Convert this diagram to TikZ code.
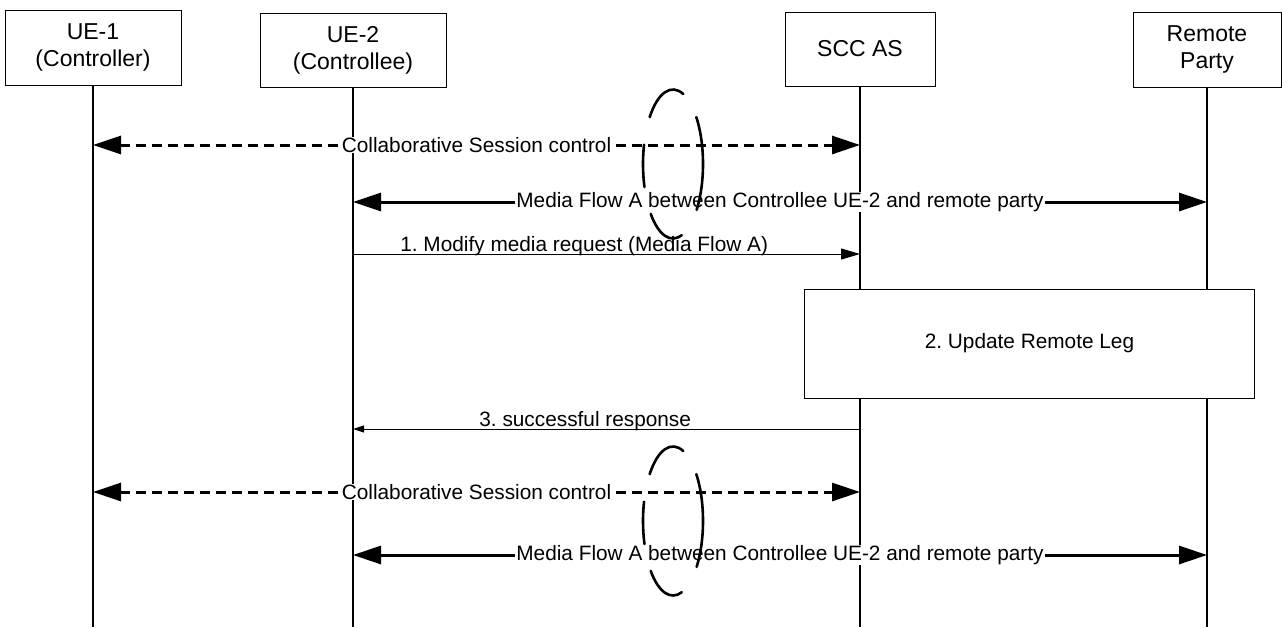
\documentclass[tikz,border=0pt]{standalone}
\usepackage{fontspec}
\setmainfont{Liberation Sans}
\usetikzlibrary{arrows.meta}
\frenchspacing
\newcommand{\hdrfont}{\fontsize{23}{27}\selectfont}
\newcommand{\msgfont}{\fontsize{20.8}{25}\selectfont}

\begin{document}
\begin{tikzpicture}[x=1pt, y=-1pt,
  party/.style={draw, line width=1pt, fill=white, minimum height=75pt, align=center, font=\hdrfont},
  lifeline/.style={line width=1.5pt},
  ctrl/.style={{Triangle[length=28pt,width=18pt]}-{Triangle[length=28pt,width=18pt]}, line width=3pt, dash pattern=on 10pt off 6pt},
  media/.style={{Triangle[length=28pt,width=18pt]}-{Triangle[length=28pt,width=18pt]}, line width=3pt},
  cut/.style={fill=white, inner xsep=1pt, inner ysep=0pt, font=\msgfont},
  msg/.style={-{Triangle[length=19pt,width=11pt]}, line width=1pt},
  reply/.style={-{Triangle[length=11pt,width=7pt]}, line width=1pt},
  lbl/.style={anchor=base, yshift=2.5pt, font=\msgfont},
  actbox/.style={draw, line width=1pt, fill=white, minimum width=450pt, minimum height=109pt, font=\msgfont},
  ring/.style={line width=2.6pt, line cap=round}
]
\useasboundingbox (0,0) rectangle (1282,627);

% entities
\node[party, minimum width=176pt] (ue1) at (93,47.5) {UE-1\\(Controller)};
\node[party, minimum width=186pt, minimum height=74pt] (ue2) at (353,50) {UE-2\\(Controllee)};
\node[party, minimum width=150pt, minimum height=74pt] (scc) at (860,49) {SCC AS};
\node[party, minimum width=148pt] (rp) at (1207,49.5) {Remote\\Party};

% lifelines
\foreach \n in {ue1,ue2,scc,rp}
  \draw[lifeline] (\n.south) -- (\n.south |- 0,627);

% before
\draw[ctrl] (ue1.south |- 0,145) -- node[cut] {Collaborative Session control} (scc.south |- 0,145);
\draw[media] (ue2.south |- 0,202) -- node[cut] {Media Flow A between Controllee UE-2 and remote party} (rp.south |- 0,202);

% steps
\draw[msg] (ue2.south |- 0,254) -- node[lbl, pos=0.456] {1. Modify media request (Media Flow A)} (scc.south |- 0,254);
\node[actbox] (upd) at (1029.5,343.5) {2. Update Remote Leg};
\draw[reply] (scc.south |- 0,429) -- node[lbl, pos=0.542, yshift=0.5pt] {3. successful response} (ue2.south |- 0,429);

% after
\draw[ctrl] (ue1.south |- 0,492) -- node[cut] {Collaborative Session control} (scc.south |- 0,492);
\draw[media] (ue2.south |- 0,555) -- node[cut] {Media Flow A between Controllee UE-2 and remote party} (rp.south |- 0,555);

% binding rings
\coordinate (bind1) at (673,164);
\coordinate (bind2) at (673,521);
\foreach \i in {1,2}
  \foreach \a/\b in {141/70, 39/-38, 165/198, 222/287}
    \draw[ring] (bind\i) ++(\a:30pt and 74.5pt) arc[start angle=\a, end angle=\b, x radius=30pt, y radius=74.5pt];
\end{tikzpicture}
\end{document}
